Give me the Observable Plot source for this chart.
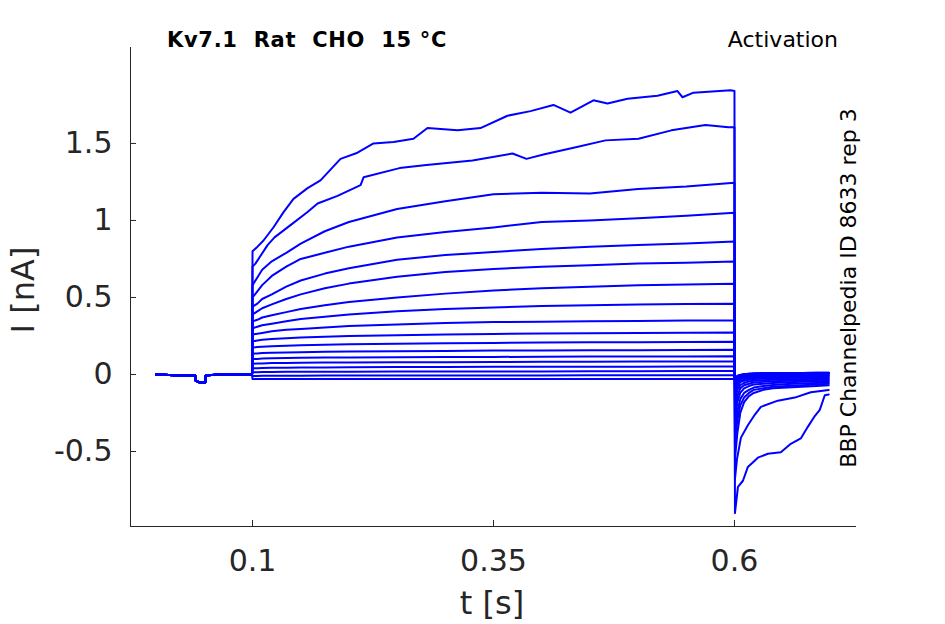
<!DOCTYPE html>
<html>
<head>
<meta charset="utf-8">
<script src="https://cdn.jsdelivr.net/npm/d3@7"></script>
<script src="https://cdn.jsdelivr.net/npm/@observablehq/plot@0.6"></script>
<style>
  html, body { margin: 0; padding: 0; background: #fff; }
  #chart svg { display: block; }
</style>
</head>
<body>
<div id="chart"></div>
<script>
// ---------- data ----------
const xTicks = [0.1, 0.35, 0.6];
const xTickLabels = ["0.1", "0.35", "0.6"];
const yTicks = [-0.5, 0, 0.5, 1, 1.5];
const yTickLabels = ["-0.5", "0", "0.5", "1", "1.5"];

// holding period (common to all sweeps), current in nA
const holdTimes   = [0, 0.02, 0.0405, 0.041, 0.046, 0.051, 0.0515, 0.07, 0.0995];
const holdCurrent = [0, -0.005, -0.005, -0.04, -0.055, -0.05, -0.005, 0, 0];

// the two largest sweeps, read with more points
const top1Times = [0.1, 0.1052, 0.1114, 0.1218, 0.1322, 0.1425, 0.1571, 0.1705, 0.1809, 0.1913, 0.2089, 0.2255, 0.2463, 0.267, 0.2815, 0.3127, 0.3365, 0.3645, 0.3884, 0.4122, 0.4299, 0.4537, 0.4683, 0.489, 0.5201, 0.5409, 0.5461, 0.5575, 0.5959, 0.6];
const top1Values = [0.8, 0.83, 0.87, 0.956, 1.054, 1.14, 1.21, 1.26, 1.33, 1.40, 1.44, 1.50, 1.51, 1.53, 1.60, 1.585, 1.60, 1.68, 1.71, 1.75, 1.70, 1.78, 1.76, 1.79, 1.81, 1.84, 1.80, 1.83, 1.845, 1.84];
const top2Times = [0.1, 0.103, 0.1156, 0.1228, 0.1394, 0.1571, 0.1675, 0.1882, 0.2121, 0.2152, 0.2525, 0.2805, 0.3282, 0.3697, 0.3842, 0.4029, 0.4320, 0.4662, 0.5004, 0.5346, 0.5699, 0.5938, 0.6];
const top2Values = [0.70, 0.72, 0.84, 0.89, 0.97, 1.055, 1.11, 1.16, 1.23, 1.28, 1.34, 1.36, 1.39, 1.435, 1.40, 1.43, 1.47, 1.52, 1.53, 1.585, 1.62, 1.605, 1.606];

// remaining sweeps during the test pulse, sampled at shared times
const stepTimes = [0.1, 0.105, 0.11, 0.12, 0.135, 0.15, 0.175, 0.2, 0.25, 0.3, 0.35, 0.4, 0.45, 0.5, 0.55, 0.6];
const stepCurrents = [
  [0.58, 0.63, 0.68, 0.735, 0.79, 0.85, 0.93, 0.99, 1.075, 1.125, 1.17, 1.18, 1.175, 1.205, 1.22, 1.245],
  [0.50, 0.54, 0.58, 0.64, 0.70, 0.75, 0.79, 0.83, 0.89, 0.925, 0.955, 0.99, 1.0, 1.015, 1.03, 1.05],
  [0.44, 0.46, 0.49, 0.52, 0.57, 0.61, 0.655, 0.69, 0.745, 0.775, 0.795, 0.815, 0.83, 0.84, 0.85, 0.864],
  [0.39, 0.41, 0.43, 0.455, 0.49, 0.52, 0.56, 0.59, 0.635, 0.665, 0.685, 0.70, 0.71, 0.72, 0.725, 0.734],
  [0.345, 0.355, 0.37, 0.385, 0.405, 0.425, 0.45, 0.47, 0.50, 0.525, 0.545, 0.56, 0.57, 0.58, 0.585, 0.589],
  [0.30, 0.31, 0.32, 0.33, 0.345, 0.36, 0.375, 0.39, 0.41, 0.425, 0.435, 0.445, 0.45, 0.455, 0.457, 0.459],
  [0.26, 0.265, 0.27, 0.28, 0.29, 0.295, 0.305, 0.315, 0.325, 0.335, 0.34, 0.343, 0.346, 0.348, 0.35, 0.35],
  [0.215, 0.22, 0.225, 0.23, 0.235, 0.24, 0.245, 0.25, 0.255, 0.26, 0.263, 0.266, 0.268, 0.27, 0.271, 0.272],
  [0.175, 0.178, 0.18, 0.183, 0.186, 0.19, 0.193, 0.196, 0.2, 0.203, 0.205, 0.207, 0.209, 0.21, 0.211, 0.212],
  [0.135, 0.137, 0.139, 0.141, 0.143, 0.145, 0.147, 0.149, 0.151, 0.153, 0.155, 0.156, 0.157, 0.158, 0.159, 0.16],
  [0.10, 0.101, 0.103, 0.105, 0.107, 0.108, 0.11, 0.111, 0.112, 0.113, 0.114, 0.115, 0.116, 0.117, 0.117, 0.118],
  [0.07, 0.071, 0.072, 0.074, 0.075, 0.076, 0.077, 0.078, 0.079, 0.08, 0.081, 0.082, 0.083, 0.084, 0.085, 0.085],
  [0.04, 0.041, 0.042, 0.043, 0.044, 0.045, 0.046, 0.047, 0.048, 0.049, 0.05, 0.05, 0.051, 0.051, 0.052, 0.052],
  [0.015, 0.015, 0.016, 0.016, 0.017, 0.017, 0.018, 0.018, 0.019, 0.019, 0.02, 0.02, 0.021, 0.021, 0.022, 0.022],
  [-0.01, -0.01, -0.009, -0.009, -0.008, -0.008, -0.007, -0.007, -0.007, -0.006, -0.006, -0.006, -0.005, -0.005, -0.005, -0.005],
  [-0.03, -0.03, -0.03, -0.03, -0.03, -0.03, -0.03, -0.03, -0.03, -0.03, -0.03, -0.03, -0.03, -0.03, -0.03, -0.03]
];

// tail currents after repolarisation
const top1TailTimes  = [0.6005, 0.6036, 0.6088, 0.6139, 0.6243, 0.6346, 0.6481, 0.6584, 0.6688, 0.6761, 0.6833, 0.6885, 0.6937, 0.6978];
const top1TailValues = [-0.90, -0.73, -0.69, -0.60, -0.54, -0.515, -0.505, -0.45, -0.415, -0.34, -0.27, -0.23, -0.135, -0.13];
const top2TailTimes  = [0.6005, 0.6026, 0.6067, 0.6139, 0.6212, 0.6274, 0.6450, 0.6626, 0.6792, 0.6978];
const top2TailValues = [-0.68, -0.55, -0.41, -0.33, -0.26, -0.21, -0.17, -0.15, -0.115, -0.10];
const tailTimes = [0.6005, 0.603, 0.606, 0.61, 0.615, 0.62, 0.63, 0.64, 0.655, 0.67, 0.685, 0.6978];
const tailCurrents = [
  [-0.55, -0.38, -0.25, -0.18, -0.14, -0.12, -0.10, -0.09, -0.085, -0.08, -0.075, -0.07],
  [-0.45, -0.30, -0.20, -0.15, -0.12, -0.10, -0.09, -0.08, -0.075, -0.07, -0.065, -0.06],
  [-0.38, -0.24, -0.16, -0.12, -0.10, -0.085, -0.075, -0.068, -0.062, -0.058, -0.055, -0.052],
  [-0.30, -0.18, -0.12, -0.09, -0.075, -0.065, -0.06, -0.055, -0.05, -0.047, -0.045, -0.043],
  [-0.24, -0.14, -0.09, -0.07, -0.06, -0.052, -0.048, -0.044, -0.04, -0.038, -0.036, -0.035],
  [-0.18, -0.10, -0.07, -0.055, -0.045, -0.04, -0.037, -0.034, -0.032, -0.03, -0.028, -0.027],
  [-0.14, -0.08, -0.05, -0.04, -0.035, -0.03, -0.028, -0.025, -0.023, -0.022, -0.02, -0.02],
  [-0.11, -0.06, -0.04, -0.03, -0.026, -0.022, -0.02, -0.018, -0.016, -0.015, -0.014, -0.013],
  [-0.08, -0.045, -0.03, -0.022, -0.018, -0.015, -0.013, -0.011, -0.01, -0.009, -0.008, -0.008],
  [-0.06, -0.035, -0.022, -0.016, -0.012, -0.01, -0.008, -0.006, -0.005, -0.004, -0.003, -0.003],
  [-0.045, -0.025, -0.015, -0.01, -0.006, -0.004, -0.002, 0, 0.001, 0.002, 0.002, 0.003],
  [-0.035, -0.02, -0.01, -0.005, 0, 0.002, 0.004, 0.005, 0.006, 0.006, 0.007, 0.007],
  [-0.03, -0.015, -0.006, -0.002, 0.002, 0.004, 0.006, 0.007, 0.008, 0.008, 0.009, 0.009],
  [-0.025, -0.012, -0.004, 0, 0.003, 0.005, 0.007, 0.008, 0.009, 0.01, 0.01, 0.01],
  [-0.02, -0.01, -0.003, 0.001, 0.004, 0.006, 0.008, 0.009, 0.01, 0.01, 0.011, 0.011],
  [-0.02, -0.01, -0.003, 0.001, 0.004, 0.006, 0.008, 0.009, 0.01, 0.01, 0.011, 0.011]
];

const title = "Kv7.1  Rat  CHO  15 °C";
const protocolLabel = "Activation";
const sourceLabel = "BBP Channelpedia ID 8633 rep 3";
const xLabel = "t [s]";
const yLabel = "I [nA]";

// ---------- build a long table ----------
const rows = [];
function addSweep(id, parts) {
  for (const [ts, vs] of parts) ts.forEach((t, k) => rows.push({sweep: id, t, i: vs[k]}));
}
addSweep(0, [[holdTimes, holdCurrent], [top1Times, top1Values], [top1TailTimes, top1TailValues]]);
addSweep(1, [[holdTimes, holdCurrent], [top2Times, top2Values], [top2TailTimes, top2TailValues]]);
stepCurrents.forEach((vals, k) => addSweep(k + 2, [[holdTimes, holdCurrent], [stepTimes, vals], [tailTimes, tailCurrents[k]]]));

const xDomain = [-0.0266, 0.7266];
const yDomain = [-0.987, 2.123];
const ink = "#262626";

const svg = Plot.plot({
  width: 945,
  height: 624,
  marginLeft: 130,
  marginRight: 89,
  marginTop: 47,
  marginBottom: 98,
  style: {fontFamily: "DejaVu Sans", color: ink, background: "#fff", overflow: "visible"},
  x: {domain: xDomain},
  y: {domain: yDomain},
  marks: [
    Plot.line(rows, {x: "t", y: "i", z: "sweep", stroke: "#0000ff", strokeWidth: 2, strokeLinejoin: "round"}),
    Plot.ruleX([xDomain[0]], {stroke: ink, strokeWidth: 1}),
    Plot.ruleY([yDomain[0]], {stroke: ink, strokeWidth: 1}),
    Plot.axisX({ticks: xTicks, tickFormat: (d) => xTickLabels[xTicks.indexOf(d)], tickSize: -6, tickPadding: 29, fontSize: 30, label: null, stroke: ink}),
    Plot.axisY({ticks: yTicks, tickFormat: (d) => yTickLabels[yTicks.indexOf(d)], tickSize: -6, tickPadding: 24, fontSize: 30, label: null, stroke: ink})
  ]
});

const s = d3.select(svg);
s.append("text").attr("x", 167).attr("y", 47).attr("text-anchor", "start").attr("fill", "#000")
  .attr("font-family", "DejaVu Sans").attr("font-weight", "bold").attr("font-size", 21)
  .attr("letter-spacing", 0.7)
  .style("white-space", "pre").text(title);
s.append("text").attr("x", 838).attr("y", 47).attr("text-anchor", "end").attr("fill", "#000")
  .attr("font-family", "DejaVu Sans").attr("font-size", 22).text(protocolLabel);
s.append("text").attr("transform", "translate(856,288) rotate(-90)").attr("text-anchor", "middle").attr("fill", "#000")
  .attr("font-family", "DejaVu Sans").attr("font-size", 22).text(sourceLabel);
s.append("text").attr("x", 492).attr("y", 614).attr("text-anchor", "middle").attr("fill", ink)
  .attr("font-family", "DejaVu Sans").attr("font-size", 32).text(xLabel);
s.append("text").attr("transform", "translate(34,290) rotate(-90)").attr("text-anchor", "middle").attr("fill", ink)
  .attr("font-family", "DejaVu Sans").attr("font-size", 32).text(yLabel);

document.getElementById("chart").appendChild(svg);
</script>
</body>
</html>
